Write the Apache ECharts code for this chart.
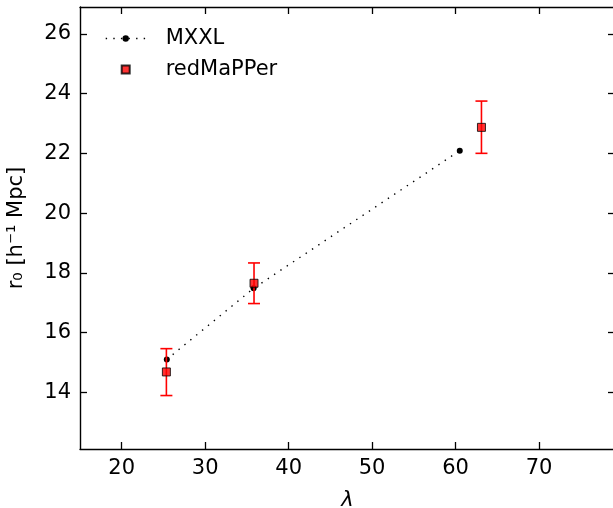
<!DOCTYPE html>
<html>
<head>
<meta charset="utf-8">
<script src="https://cdn.jsdelivr.net/npm/echarts@6/dist/echarts.min.js"></script>
<style>
  html, body { margin: 0; padding: 0; background: #fff; }
  #chart { width: 613px; height: 508px; }
</style>
</head>
<body>
<div id="chart"></div>
<script>
// Clustering length r0 versus richness lambda
const mxxlLambda = [25.4, 35.8, 60.5];
const mxxlR0 = [15.1, 17.48, 22.09];

const redLambda = [25.35, 35.85, 63.1];
const redR0 = [14.68, 17.65, 22.87];
const redErrLow = [13.89, 16.97, 22.0];
const redErrHigh = [15.46, 18.33, 23.75];

const xTicks = [20, 30, 40, 50, 60, 70];
const yTicks = [14, 16, 18, 20, 22, 24, 26];

const X_MIN = 15, X_MAX = 79.1;
const Y_MIN = 12.1, Y_MAX = 26.9;
const FONT = 'DejaVu Sans';

const mxxlData = mxxlLambda.map((x, i) => [x, mxxlR0[i]]);
const redData = redLambda.map((x, i) => [x, redR0[i]]);
const errData = redLambda.map((x, i) => [x, redErrLow[i], redErrHigh[i]]);

const frameLine = { show: true, onZero: false, lineStyle: { color: '#000', width: 1.4 } };
const dotted = [1.4, 6.2];

function axisX(pos, labels) {
  return {
    type: 'value', position: pos, min: X_MIN, max: X_MAX,
    axisLine: frameLine,
    axisTick: { show: true, inside: true, length: 7, lineStyle: { color: '#000', width: 1.3 }, customValues: xTicks },
    axisLabel: labels ? { show: true, customValues: xTicks, color: '#000', fontFamily: FONT, fontSize: 21, margin: 9 } : { show: false },
    splitLine: { show: false }
  };
}
function axisY(pos, labels) {
  return {
    type: 'value', position: pos, min: Y_MIN, max: Y_MAX,
    axisLine: frameLine,
    axisTick: { show: true, inside: true, length: 7, lineStyle: { color: '#000', width: 1.3 }, customValues: yTicks },
    axisLabel: labels ? { show: true, customValues: yTicks, color: '#000', fontFamily: FONT, fontSize: 21, margin: 9 } : { show: false },
    splitLine: { show: false }
  };
}

const xBottom = Object.assign(axisX('bottom', true), {
  name: 'λ', nameLocation: 'middle', nameGap: 41,
  nameTextStyle: { fontFamily: FONT, fontStyle: 'italic', fontSize: 21, color: '#000' }
});
const yLeft = Object.assign(axisY('left', true), {
  name: 'r₀ [h⁻¹ Mpc]', nameLocation: 'middle', nameGap: 53,
  nameTextStyle: { fontFamily: FONT, fontSize: 21, color: '#000' }
});

const chart = echarts.init(document.getElementById('chart'), null, { renderer: 'canvas' });
chart.setOption({
  animation: false,
  backgroundColor: '#fff',
  grid: { left: 80, top: 7, right: -2, bottom: 59, containLabel: false, outerBoundsMode: 'none' },
  xAxis: [xBottom, axisX('top', false)],
  yAxis: [yLeft, axisY('right', false)],
  legend: {
    left: 100, top: 23, orient: 'vertical',
    itemWidth: 40, itemHeight: 8, itemGap: 10,
    lineStyle: { type: dotted, width: 1.4, color: '#000' },
    textStyle: { fontFamily: FONT, fontSize: 21, color: '#000', padding: [0, 0, 0, 15] },
    data: [
      { name: 'MXXL' },
      { name: 'redMaPPer', icon: 'path://M0 0H10V10H0Z' }
    ],
    symbolKeepAspect: true
  },
  series: [
    {
      name: 'MXXL', type: 'line', data: mxxlData, z: 2,
      symbol: 'circle', symbolSize: 6,
      itemStyle: { color: '#000' },
      lineStyle: { color: '#000', width: 1.4, type: dotted }
    },
    {
      name: 'redMaPPer errors', type: 'custom', data: errData, z: 3,
      renderItem: function (params, api) {
        const x = api.value(0);
        const lo = api.coord([x, api.value(1)]);
        const hi = api.coord([x, api.value(2)]);
        const cap = 6;
        const style = { stroke: '#ff0000', lineWidth: 1.6 };
        return {
          type: 'group',
          children: [
            { type: 'line', shape: { x1: lo[0], y1: lo[1], x2: hi[0], y2: hi[1] }, style: style },
            { type: 'line', shape: { x1: lo[0] - cap, y1: lo[1], x2: lo[0] + cap, y2: lo[1] }, style: style },
            { type: 'line', shape: { x1: hi[0] - cap, y1: hi[1], x2: hi[0] + cap, y2: hi[1] }, style: style }
          ]
        };
      }
    },
    {
      name: 'redMaPPer', type: 'scatter', data: redData, z: 4,
      symbol: 'rect', symbolSize: 8,
      itemStyle: { color: '#ff0000', borderColor: '#000', borderWidth: 1 }
    }
  ]
});
</script>
</body>
</html>
